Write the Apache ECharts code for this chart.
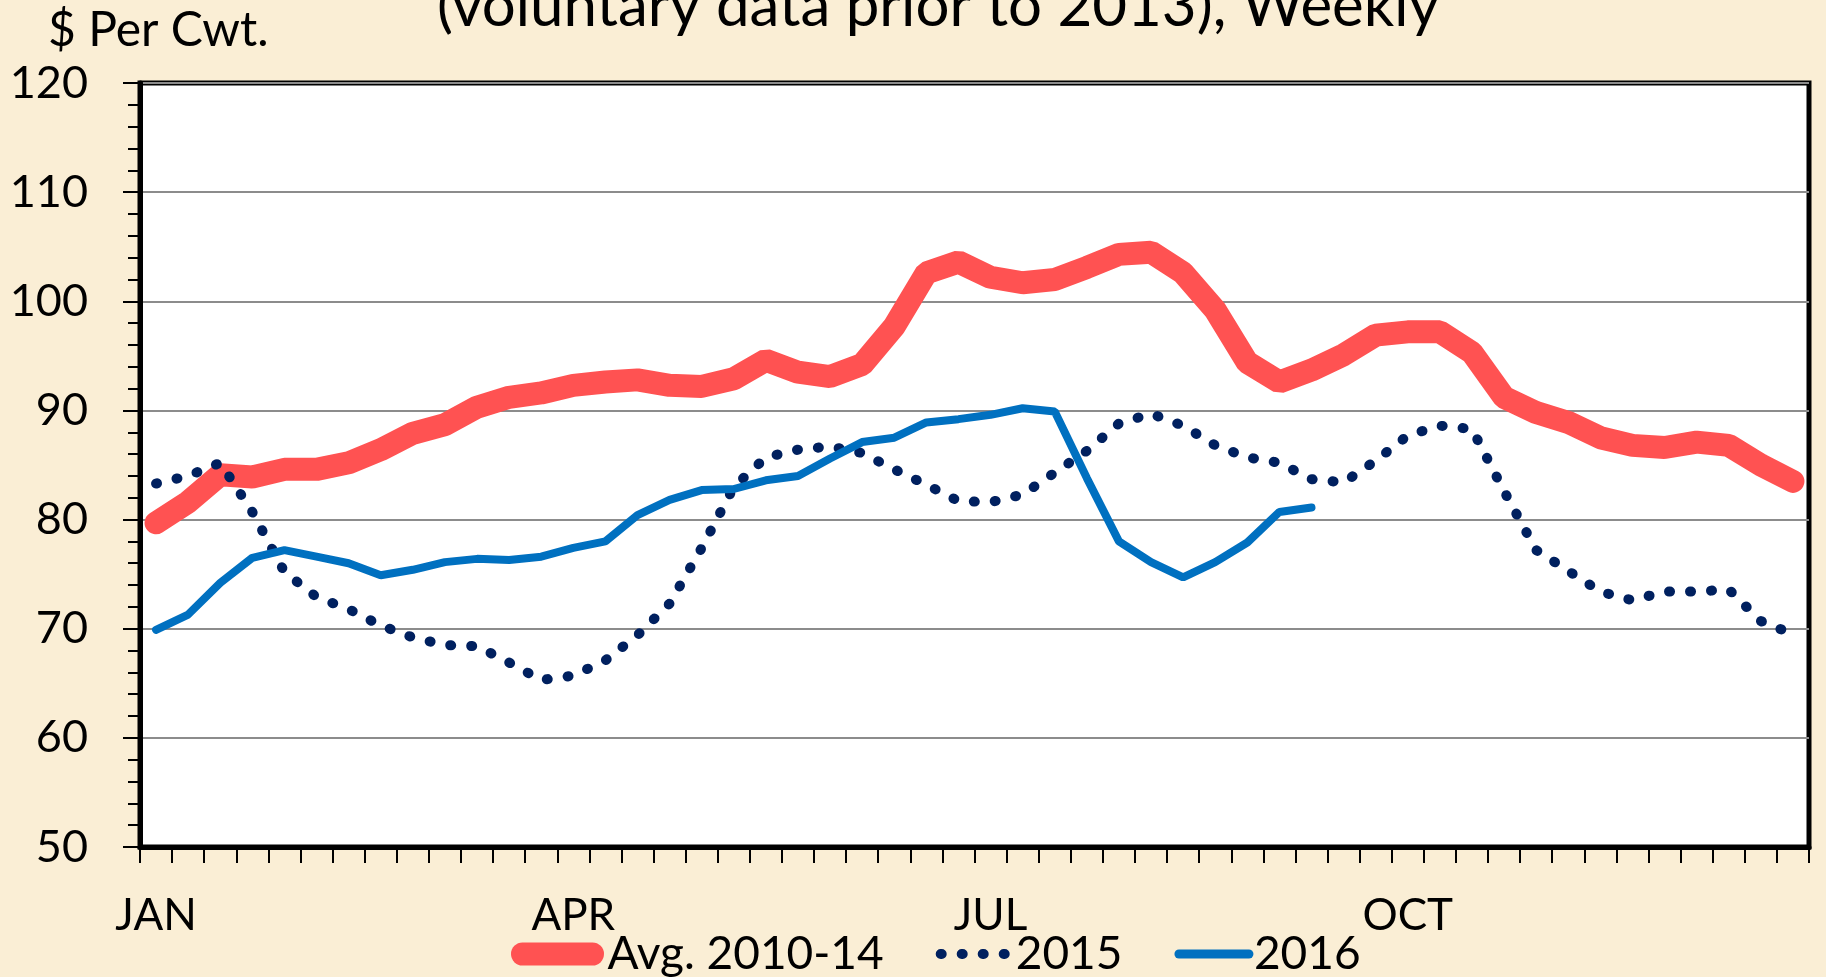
<!DOCTYPE html>
<html>
<head>
<meta charset="utf-8">
<title>Weekly prices, $ per cwt</title>
<script src="https://cdn.jsdelivr.net/npm/echarts@6/dist/echarts.min.js"></script>
<style>
  html, body { margin: 0; padding: 0; background: #faeed5; }
  #chart { width: 1826px; height: 977px; }
</style>
</head>
<body>
<div id="chart"></div>
<script>
const weeks = [1, 2, 3, 4, 5, 6, 7, 8, 9, 10, 11, 12, 13, 14, 15, 16, 17, 18, 19, 20, 21, 22, 23, 24, 25, 26,
  27, 28, 29, 30, 31, 32, 33, 34, 35, 36, 37, 38, 39, 40, 41, 42, 43, 44, 45, 46, 47, 48, 49, 50, 51, 52]
const monthWeeks = [1, 14, 27, 40]
const monthNames = ['JAN', 'APR', 'JUL', 'OCT']

const avg2010to14 = [79.7, 81.6, 84.1, 83.9, 84.6, 84.6, 85.2, 86.4, 87.9, 88.7,
  90.3, 91.2, 91.6, 92.3, 92.6, 92.8, 92.3, 92.2, 92.9, 94.6,
  93.5, 93.1, 94.2, 97.7, 102.6, 103.6, 102.2, 101.7, 102.0, 103.1,
  104.3, 104.5, 102.6, 99.2, 94.4, 92.6, 93.7, 95.1, 96.9, 97.2,
  97.2, 95.3, 91.2, 89.8, 88.9, 87.5, 86.8, 86.6, 87.1, 86.8,
  85.0, 83.5]
const y2015 = [83.3, 84.0, 85.2, 80.7, 75.2, 72.9, 71.8, 70.3, 69.2, 68.5,
  68.4, 66.9, 65.3, 65.7, 67.1, 69.4, 72.3, 77.4, 83.0, 85.7,
  86.4, 86.7, 86.1, 84.6, 83.2, 81.7, 81.6, 82.3, 84.3, 86.3,
  88.8, 89.7, 88.6, 86.8, 85.7, 85.2, 83.7, 83.4, 85.4, 87.7,
  88.6, 88.3, 82.6, 77.2, 75.3, 73.4, 72.6, 73.4, 73.4, 73.6,
  70.7, 69.5]
const y2016 = [69.9, 71.3, 74.2, 76.5, 77.2, 76.6, 76.0, 74.9, 75.4, 76.1,
  76.4, 76.3, 76.6, 77.4, 78.0, 80.4, 81.8, 82.7, 82.8, 83.6,
  84.0, 85.6, 87.1, 87.5, 88.9, 89.2, 89.6, 90.2, 89.9, 83.8,
  78.0, 76.1, 74.7, 76.1, 77.9, 80.7, 81.1]
const yTicks = { min: 50, max: 120, step: 10 }

const font = 'Lato'
const chart = echarts.init(document.getElementById('chart'))

const option = {
  backgroundColor: '#faeed5',
  animation: false,
  title: [
    {
      text: '(voluntary data prior to 2013), Weekly',
      left: 437,
      top: -23,
      padding: 0,
      textStyle: { fontFamily: font, fontSize: 60, fontWeight: 'normal', color: '#000' }
    },
    {
      text: '$ Per Cwt.',
      left: 48,
      top: 7,
      padding: 0,
      textStyle: { fontFamily: font, fontSize: 48, fontWeight: 'normal', color: '#000' }
    }
  ],
  legend: {
    left: 511,
    top: 931,
    padding: 0,
    itemWidth: 70,
    itemHeight: 24,
    itemGap: 52,
    // hide the marker circle, keep only the line sample
    itemStyle: { opacity: 0 },
    textStyle: { fontFamily: font, fontSize: 46, color: '#000' },
    data: [
      { name: 'Avg. 2010-14', lineStyle: { width: 23, cap: 'round' }, textStyle: { padding: [0, 0, 0, 10] } },
      { name: '2015', lineStyle: { width: 10, cap: 'round', type: [1, 20] } },
      { name: '2016', lineStyle: { width: 9, cap: 'round' } }
    ]
  },
  grid: {
    left: 140,
    right: 17,
    top: 83,
    bottom: 130,
    show: true,
    backgroundColor: '#fff',
    borderColor: '#000',
    borderWidth: 5
  },
  xAxis: {
    type: 'category',
    data: weeks,
    boundaryGap: true,
    axisLine: { lineStyle: { color: '#000', width: 5 } },
    axisTick: { show: true, interval: 0, length: 16, lineStyle: { color: '#000', width: 2 } },
    axisLabel: {
      interval: 0,
      margin: 47,
      fontFamily: font,
      fontSize: 44,
      color: '#000',
      formatter: function (value) {
        const k = monthWeeks.indexOf(Number(value))
        return k >= 0 ? monthNames[k] : ''
      }
    },
    splitLine: { show: false }
  },
  yAxis: {
    type: 'value',
    min: yTicks.min,
    max: yTicks.max,
    interval: yTicks.step,
    axisLine: { show: true, lineStyle: { color: '#000', width: 5 } },
    axisTick: { show: true, length: 17, lineStyle: { color: '#000', width: 2 } },
    minorTick: { show: true, splitNumber: 5, length: 12, lineStyle: { color: '#000', width: 2 } },
    axisLabel: { margin: 52, fontFamily: font, fontSize: 45, color: '#000' },
    splitLine: { lineStyle: { color: '#8c8c8c', width: 2 } }
  },
  series: [
    {
      name: 'Avg. 2010-14',
      type: 'line',
      data: avg2010to14,
      symbol: 'none',
      color: '#ff5252',
      lineStyle: { color: '#ff5252', width: 23, cap: 'round' }
    },
    {
      name: '2015',
      type: 'line',
      data: y2015,
      symbol: 'none',
      color: '#00205f',
      // round dots like the excel "round dot" dash
      lineStyle: { color: '#00205f', width: 10, cap: 'round', type: [1, 20] }
    },
    {
      name: '2016',
      type: 'line',
      data: y2016,
      symbol: 'none',
      color: '#0070c0',
      lineStyle: { color: '#0070c0', width: 8, cap: 'round' }
    }
  ]
}

chart.setOption(option)
</script>
</body>
</html>
